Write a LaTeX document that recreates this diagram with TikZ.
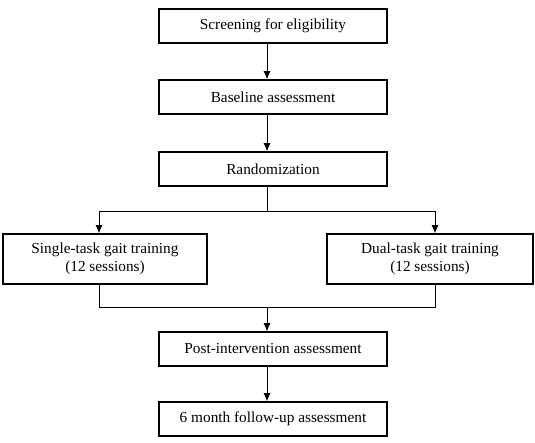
\documentclass[tikz,border=0pt]{standalone}
\usepackage{fontspec}
\setmainfont{Liberation Serif}
\usetikzlibrary{arrows.meta,positioning,calc}
\tikzset{
  stage/.style={draw,line width=1.6pt,minimum width=228pt,minimum height=34pt,
    inner sep=0pt,align=center,font=\fontsize{15.3}{18}\selectfont},
  arm/.style={stage,minimum height=50pt},
  flow/.style={-{Latex[length=8pt,width=7pt]},line width=0.8pt},
  link/.style={line width=0.8pt}
}
\begin{document}
\begin{tikzpicture}[x=1pt,y=-1pt]
      \useasboundingbox (0,0) rectangle (535,443);
      % main column
      \node[stage] (screen) at (273,26) {Screening for eligibility};
      \node[stage] (base) at (273,97) {Baseline assessment};
      \node[stage] (rand) at (273,169) {Randomization};
      % the two arms
      \node[arm,minimum width=204pt] (single) at (105,259) {Single-task gait training\\(12 sessions)};
      \node[arm,minimum width=206pt] (dual) at (430,259) {Dual-task gait training\\(12 sessions)};
      \node[stage] (post) at (273,349) {Post-intervention assessment};
      \node[stage] (follow) at (273,419) {6 month follow-up assessment};

      \coordinate (spine) at (267,0);
      \coordinate (leftarm) at (99,0);
      \coordinate (rightarm) at (435,0);
      \coordinate (split) at (267,211);
      \coordinate (join) at (267,307);

      \draw[flow] (screen.south -| spine) -- (base.north -| spine);
      \draw[flow] (base.south -| spine) -- (rand.north -| spine);

      \draw[link] (rand.south -| spine) -- (split);
      \draw[flow] (split) -| (single.north -| leftarm);
      \draw[flow] (split) -| (dual.north -| rightarm);

      \draw[link] (single.south -| leftarm) |- (join);
      \draw[link] (dual.south -| rightarm) |- (join);
      \draw[flow] (join) -- (post.north -| spine);

      \draw[flow] (post.south -| spine) -- (follow.north -| spine);
\end{tikzpicture}
\end{document}
